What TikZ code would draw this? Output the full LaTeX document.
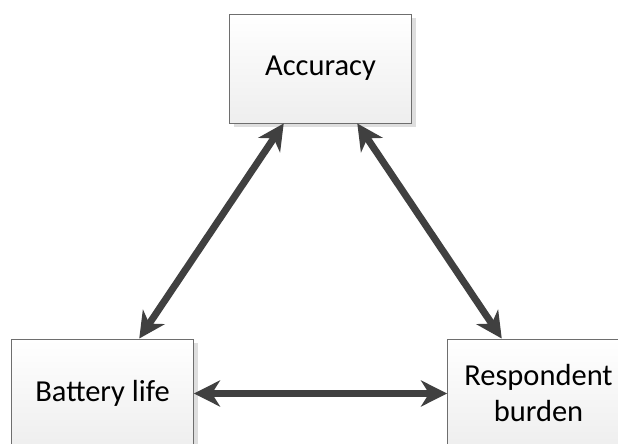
\documentclass[tikz,border=0pt]{standalone}
\usepackage{fontspec}
\setmainfont{Carlito}
\usetikzlibrary{positioning,arrows.meta,shadows}
\definecolor{BoxLine}{RGB}{110,110,110}
\definecolor{BoxLow}{RGB}{238,238,238}
\definecolor{ArrowGrey}{RGB}{64,64,64}

\begin{document}
\begin{tikzpicture}[x=1pt, y=1pt,
    every node/.style={font=\fontsize{30.5}{36}\selectfont, align=center},
    factor/.style={draw=BoxLine, line width=0.9pt, top color=white, bottom color=BoxLow,
        minimum width=182pt, minimum height=109pt, inner sep=0pt,
        drop shadow={shadow xshift=4pt, shadow yshift=-4pt, fill=black!13, opacity=1}},
    tradeoff/.style={{Stealth[length=26pt, width=26pt, inset=8pt]}-{Stealth[length=26pt, width=26pt, inset=8pt]},
        line width=7pt, ArrowGrey}]
  \clip (0,0) rectangle (618,444);
  \fill[white] (0,0) rectangle (618,444);
  \node[factor] (acc) at (320.5,375.5) {Accuracy};
  \node[factor] (bat) at (102.5,50.5) {Battery life};
  \node[factor] (resp) at (538.5,50.5) {Respondent\\burden};
  \draw[tradeoff] (acc) -- (bat);
  \draw[tradeoff] (acc) -- (resp);
  \draw[tradeoff] (bat) -- (resp);
\end{tikzpicture}
\end{document}
